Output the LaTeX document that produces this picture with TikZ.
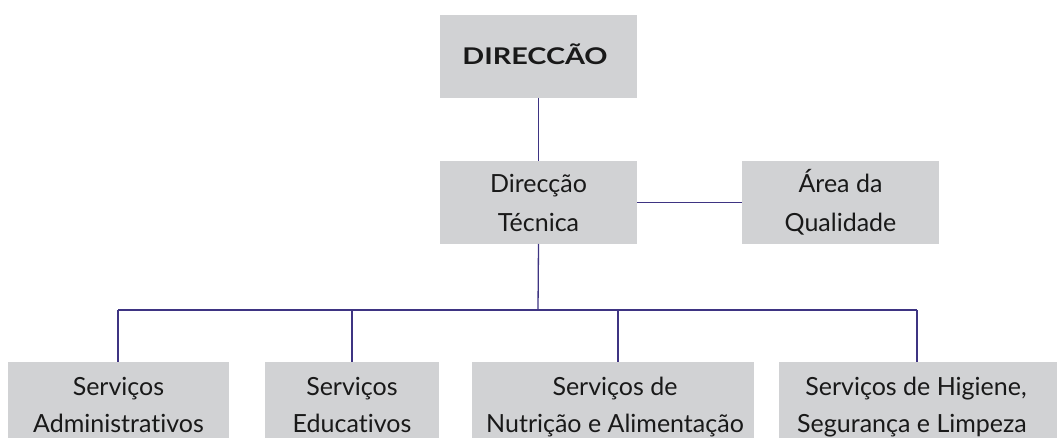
\documentclass[tikz,border=0pt]{standalone}
\usepackage{fontspec}
\setmainfont{Lato}[Ligatures={NoCommon}]
\newfontfamily\headfont{Lato}[Ligatures={NoCommon}, FakeStretch=1.25]
\definecolor{boxgray}{RGB}{209,210,212}
\definecolor{linec}{RGB}{62,52,130}
\begin{document}
\begin{tikzpicture}[x=1pt,y=-1pt,
  box/.style={fill=boxgray, draw=none, inner sep=0pt, outer sep=0pt},
  lbl/.style={anchor=base, inner sep=0pt, text=black!90, font=\fontsize{25}{30}\selectfont},
  hlbl/.style={anchor=base, inner sep=0pt, text=black!90, font=\headfont\fontsize{23}{27}\selectfont\bfseries},
  conn/.style={draw=linec, line width=1.3pt}]
\useasboundingbox (0,0) rectangle (1057,438);
\clip (0,0) rectangle (1057,438);
% boxes
\node[box, minimum width=197pt, minimum height=83pt] (top) at (538.5,56.5) {};
\node[box, minimum width=197pt, minimum height=83pt] (dt) at (538.5,202.5) {};
\node[box, minimum width=197pt, minimum height=83pt] (aq) at (840.5,202.5) {};
\node[box, minimum width=221pt, minimum height=108pt] (b1) at (118.5,416) {};
\node[box, minimum width=174pt, minimum height=108pt] (b2) at (352,416) {};
\node[box, minimum width=282pt, minimum height=108pt] (b3) at (613,416) {};
\node[box, minimum width=281pt, minimum height=108pt] (b4) at (919.5,416) {};
% texts
\node[hlbl] (topt) at (535,65) {DIRECCÃO};
\node[lbl] (dt1) at (538.5,193) {Direcção};
\node[lbl] (dt2) at (538.5,232) {Técnica};
\node[lbl] (aq1) at (840.5,193) {Área da};
\node[lbl] (aq2) at (840.5,232) {Qualidade};
\node[lbl] (b1a) at (118.5,395) {Serviços};
\node[lbl] (b1b) at (118.5,432) {Administrativos};
\node[lbl] (b2a) at (352,395) {Serviços};
\node[lbl] (b2b) at (352,432) {Educativos};
\node[lbl] (b3a) at (615,395) {Serviços de};
\node[lbl] (b3b) at (615,432) {Nutrição e Alimentação};
\node[lbl] (b4a) at (916,395) {Serviços de Higiene,};
\node[lbl] (b4b) at (912,432) {Segurança e Limpeza};
% connectors
\draw[conn] (top.south) -- (dt.north);
\draw[conn] (dt.east) -- (aq.west);
\coordinate (bus) at (538,310);
\coordinate (j1) at (118,310);
\coordinate (j2) at (352,310);
\coordinate (j3) at (618,310);
\coordinate (j4) at (917,310);
\draw[conn] (dt.south) -- (bus);
\draw[conn] (j1) -- (j4);
\draw[conn] (j1) -- (j1 |- b1.north);
\draw[conn] (j2) -- (j2 |- b2.north);
\draw[conn] (j3) -- (j3 |- b3.north);
\draw[conn] (j4) -- (j4 |- b4.north);
\end{tikzpicture}
\end{document}
